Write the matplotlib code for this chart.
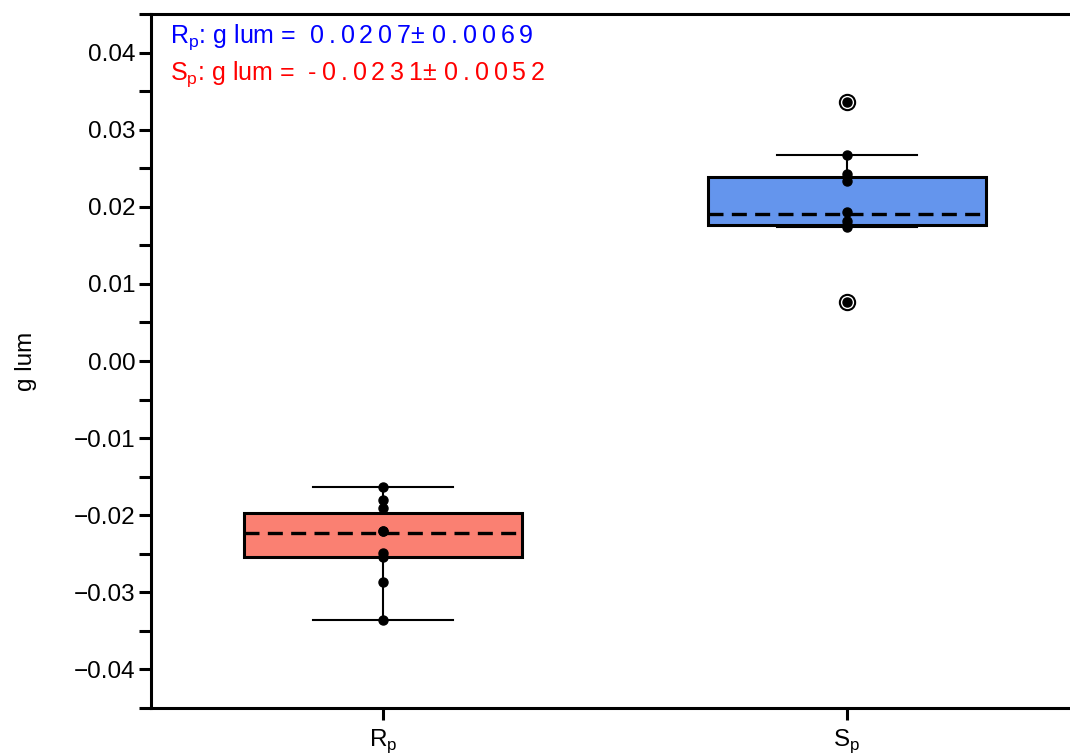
"""
Box plot of g_lum for the Rp / Sp enantiomers.
"""
import matplotlib
matplotlib.use('Agg')
import matplotlib.pyplot as plt
from matplotlib.ticker import MultipleLocator, FuncFormatter

plt.rcParams['font.family'] = ['Liberation Sans', 'DejaVu Sans']
plt.rcParams['mathtext.fontset'] = 'custom'
plt.rcParams['mathtext.rm'] = 'Liberation Sans'

# categories
groups = [r'R$_\mathregular{p}$', r'S$_\mathregular{p}$']
box_colours = ['#FA8072', '#6495ED']

# individual measurements
rp_values = [-0.0163, -0.0180, -0.0191, -0.0221, -0.0221, -0.0249, -0.0254, -0.0286, -0.0336]
sp_values = [0.0336, 0.0267, 0.0243, 0.0234, 0.0193, 0.0182, 0.0176, 0.0174, 0.0076]

# box statistics as drawn in the original
q1 = [-0.0254, 0.0177]
q3 = [-0.0197, 0.0238]
medians = [-0.0223, 0.0190]
whisker_lo = [-0.0336, 0.0174]
whisker_hi = [-0.0163, 0.0267]
outliers = [[], [0.0336, 0.0076]]

# summary text (mean ± sd as printed)
summary_names = [r'R$_\mathregular{p}$', r'S$_\mathregular{p}$']
summary_means = ['0.0207', '-0.0231']
summary_sds = ['0.0069', '0.0052']
summary_colours = ['#0000FF', '#FF0000']


def _spaced(s):
    # the original uses wide letter spacing for the numbers
    return '\u2009'.join(s)


fig = plt.figure(figsize=(10.7, 7.56), dpi=100)
ax = fig.add_axes([151 / 1070, 48 / 756, 928 / 1070, 694 / 756])

stats = []
for i in range(len(groups)):
    stats.append(dict(med=medians[i], q1=q1[i], q3=q3[i],
                      whislo=whisker_lo[i], whishi=whisker_hi[i],
                      fliers=outliers[i], label=groups[i]))

bp = ax.bxp(
    stats,
    positions=[0, 1],
    widths=0.6,
    capwidths=0.3,
    patch_artist=True,
    boxprops=dict(linewidth=2.2, edgecolor='black'),
    medianprops=dict(color='black', linewidth=2.4, linestyle=(0, (4.5, 2.5))),
    whiskerprops=dict(color='black', linewidth=1.5),
    capprops=dict(color='black', linewidth=1.5),
    flierprops=dict(marker='o', markerfacecolor='white', markeredgecolor='black',
                    markersize=11, markeredgewidth=1.5),
)
for patch, c in zip(bp['boxes'], box_colours):
    patch.set_facecolor(c)
for m in bp['medians']:
    m.set_zorder(4)

# raw points on top
ax.plot([0] * len(rp_values), rp_values, 'o', color='black', markersize=6.5, zorder=5)
ax.plot([1] * len(sp_values), sp_values, 'o', color='black', markersize=6.5, zorder=5)

ax.set_xlim(-0.5, 1.5)
ax.set_ylim(-0.045, 0.045)
ax.yaxis.set_major_locator(MultipleLocator(0.01))
ax.yaxis.set_minor_locator(MultipleLocator(0.005))


def _fmt(v, pos):
    s = f'{v:.2f}'
    if s == '-0.00':
        s = '0.00'
    return s.replace('-', '\u2212')


ax.yaxis.set_major_formatter(FuncFormatter(_fmt))
ax.set_xticks([0, 1])
ax.set_xticklabels(groups)

ax.tick_params(axis='both', which='both', direction='out', length=8.6, width=2.2,
               labelsize=17.5, top=False, right=False)
ax.tick_params(axis='x', pad=5)
ax.tick_params(axis='y', pad=2.5)
for sp in ax.spines.values():
    sp.set_linewidth(2.2)

ax.set_ylabel('g lum', fontsize=17.5)
ax.yaxis.set_label_coords(-0.123, 0.5)

for k in range(len(summary_names)):
    txt = (f'{summary_names[k]}: g lum =  '
           f'{_spaced(summary_means[k])}± {_spaced(summary_sds[k])}')
    ax.text(0.0205, 0.958 - k * 0.053, txt, color=summary_colours[k], fontsize=18,
            transform=ax.transAxes, va='baseline', ha='left')

fig.savefig('out.png', dpi=100)
